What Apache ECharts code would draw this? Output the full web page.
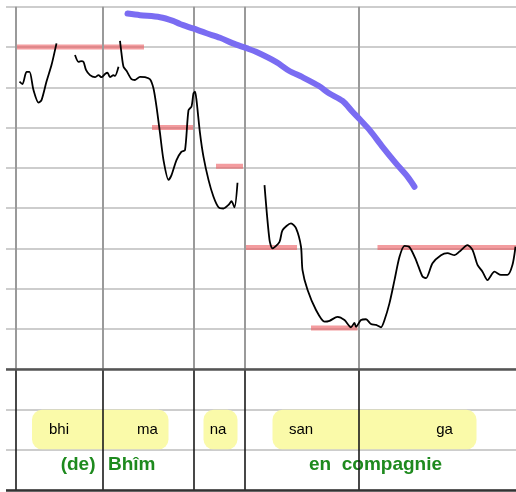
<!DOCTYPE html>
<html>
<head>
<meta charset="utf-8">
<script src="https://cdn.jsdelivr.net/npm/echarts@6/dist/echarts.min.js"></script>
<style>
html,body{margin:0;padding:0;background:#fff;}
#chart{width:516px;height:492px;}
</style>
</head>
<body>
<div id="chart"></div>
<script>
// time in ms, pitch in semitone grid units (0..12; rows 0-3 hold the text tiers)
var contourBhi = [[7,10.14],[13,10.08],[21,10.38],[27,10.38],[35,9.93],[45,9.62],[51,9.68],[61,10.14],[71,10.55],[81,11.09]];
var contourBhiMa = [[118,10.80],[125,10.63],[130,10.65],[135,10.63],[140,10.43],[148,10.30],[158,10.25],[165,10.30],[171,10.25],[178,10.33],[183,10.36],[188,10.25],[195,10.30],[198,10.28],[205,10.51]];
var contourMaNa = [[208,11.15],[211,10.84],[215,10.51],[221,10.41],[231,10.20],[238,10.18],[248,10.26],[258,10.25],[268,10.20],[275,9.97],[281,9.52],[288,8.86],[295,8.19],[305,7.70],[311,7.82],[321,8.19],[331,8.40],[338,8.44],[345,9.43],[351,9.52],[355,9.85],[358,9.89],[361,9.68],[368,8.86],[375,8.27],[385,7.70],[395,7.28],[405,7.02],[415,6.99],[425,7.08],[431,7.17],[437,7.02],[443,7.63]];
var contourSanga = [[497,7.57],[507,6.21],[513,6.00],[527,6.16],[533,6.45],[550,6.62],[560,6.50],[570,6.04],[573,5.46],[583,4.97],[600,4.47],[617,4.18],[627,4.20],[643,4.30],[657,4.22],[670,4.04],[677,4.15],[680,4.05],[690,4.22],[700,4.24],[710,4.12],[720,4.10],[730,4.04],[737,4.22],[747,4.64],[757,5.21],[767,5.79],[777,6.06],[787,6.03],[800,5.71],[813,5.30],[820,5.26],[833,5.63],[850,5.83],[863,5.88],[877,5.83],[887,5.92],[903,6.08],[913,5.96],[923,5.59],[933,5.42],[943,5.21],[957,5.42],[970,5.34],[983,5.34],[993,5.59],[999,6.04]];
var declination = [[223,11.83],[248,11.79],[288,11.74],[314,11.65],[328,11.57],[354,11.46],[381,11.34],[408,11.23],[434,11.09],[461,10.97],[480,10.88],[520,10.63],[546,10.41],[573,10.25],[606,10.03],[626,9.85],[653,9.66],[673,9.39],[687,9.21],[707,8.94],[733,8.52],[760,8.11],[783,7.78],[797,7.53]];
var targetStarts = [0, 272, 400, 458, 590, 723];
var targetEnds   = [256, 354, 454, 562, 683, 1000];
var targetLevels = [11, 9, 8.04, 6.02, 4.02, 6.02];
var boundaries = [0, 173.4, 354.6, 458, 685.4];
var syllables = ['bhi', 'ma', 'na', 'san', 'ga'];
var syllableTimes = [86, 263, 404, 570, 857];
var boxStarts = [32, 375, 513];
var boxEnds = [305, 443, 921];
var glossWords = ['(de)', 'Bhîm', 'en  compagnie'];
var glossTimes = [159, 184, 719];
var glossAlign = ['right', 'left', 'center'];

var chart = echarts.init(document.getElementById('chart'), null, {renderer: 'canvas'});
var FONT = '"Liberation Sans", Arial, Helvetica, sans-serif';

var series = [];
// yellow syllable boxes
series.push({
  type: 'custom', z: 1, silent: true,
  data: boxStarts.map(function (s, i) { return [s, boxEnds[i]]; }),
  renderItem: function (params, api) {
    var p0 = api.coord([api.value(0), 1.99]);
    var p1 = api.coord([api.value(1), 1.01]);
    return {type: 'rect', shape: {x: p0[0], y: p0[1], width: p1[0] - p0[0], height: p1[1] - p0[1], r: 10},
            style: {fill: '#fafaa9'}};
  }
});
// boundaries and tier separators
var ml = [];
boundaries.forEach(function (b) {
  ml.push([{coord: [b, 12], lineStyle: {color: '#9a9a9a', width: 2, type: 'solid'}}, {coord: [b, 3]}]);
  ml.push([{coord: [b, 3], lineStyle: {color: '#1a1a1a', width: 1.6, type: 'solid'}}, {coord: [b, 0]}]);
});
ml.push([{coord: [-20, 3], lineStyle: {color: '#555', width: 2.5, type: 'solid'}}, {coord: [1000, 3]}]);
ml.push([{coord: [-20, 0], lineStyle: {color: '#333', width: 2.5, type: 'solid'}}, {coord: [1000, 0]}]);
series.push({
  type: 'line', data: [], z: 3, silent: true,
  markLine: {silent: true, symbol: ['none', 'none'], label: {show: false}, animation: false,
             lineStyle: {type: 'solid'}, emphasis: {disabled: true}, data: ml}
});
// red targets
targetStarts.forEach(function (s, i) {
  series.push({
    type: 'line', z: 4, silent: true, symbol: 'none',
    data: [[s, targetLevels[i]], [targetEnds[i], targetLevels[i]]],
    lineStyle: {color: 'rgba(235,90,95,0.6)', width: 5}
  });
});
// blue declination line
series.push({
  type: 'line', z: 5, silent: true, symbol: 'none', smooth: 0.3,
  data: declination,
  lineStyle: {color: '#7a6cf2', width: 6, cap: 'round', join: 'round'}
});
// black pitch contour
[contourBhi, contourBhiMa, contourMaNa, contourSanga].forEach(function (seg) {
  series.push({
    type: 'line', z: 6, silent: true, symbol: 'none', smooth: 0.25,
    data: seg,
    lineStyle: {color: '#000', width: 1.8, join: 'round'}
  });
});
// syllable text
series.push({
  type: 'custom', z: 7, silent: true,
  data: syllables.map(function (s, i) { return [syllableTimes[i], 1.5, i]; }),
  renderItem: function (params, api) {
    var p = api.coord([api.value(0), api.value(1)]);
    return {type: 'text', x: p[0], y: p[1],
            style: {text: syllables[api.value(2)], fill: '#000', font: '15px ' + FONT,
                    align: 'center', verticalAlign: 'middle'}};
  }
});
// French gloss
series.push({
  type: 'custom', z: 2, silent: true,
  data: glossWords.map(function (s, i) { return [glossTimes[i], 0.62, i]; }),
  renderItem: function (params, api) {
    var i = api.value(2);
    var p = api.coord([api.value(0), api.value(1)]);
    return {type: 'text', x: p[0], y: p[1],
            style: {text: glossWords[i], fill: '#1e8a1e', font: 'bold 19px ' + FONT,
                    align: glossAlign[i], verticalAlign: 'middle'}};
  }
});

chart.setOption({
  animation: false,
  backgroundColor: '#fff',
  grid: {left: 6, right: 0, top: 6.7, bottom: 2, containLabel: false},
  xAxis: {type: 'value', min: -20, max: 1000, show: false, splitLine: {show: false}},
  yAxis: {type: 'value', min: 0, max: 12, interval: 1,
          axisLine: {show: false}, axisTick: {show: false}, axisLabel: {show: false},
          splitLine: {show: true, lineStyle: {color: '#bdbdbd', width: 1.5}}},
  series: series
});
</script>
</body>
</html>
